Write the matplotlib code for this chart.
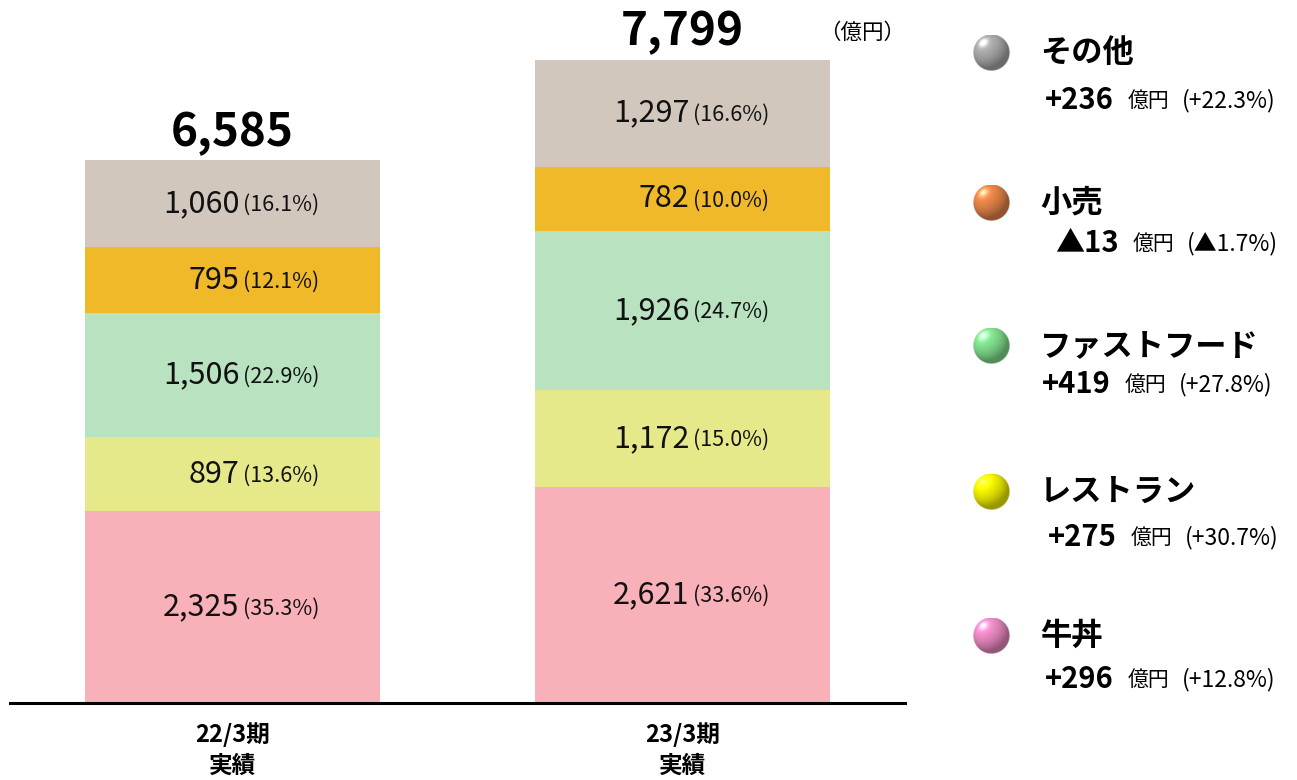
import numpy as np
import matplotlib
matplotlib.use("Agg")
import matplotlib.pyplot as plt

plt.rcParams['font.family'] = ['Noto Sans CJK JP', 'DejaVu Sans']

# ---- data ----
periods = ['22/3期\n実績', '23/3期\n実績']
categories = ['牛丼', 'レストラン', 'ファストフード', '小売', 'その他']  # bottom -> top
fy22_values = [2325, 897, 1506, 795, 1060]
fy23_values = [2621, 1172, 1926, 782, 1297]
fy22_pct = ['35.3%', '13.6%', '22.9%', '12.1%', '16.1%']
fy23_pct = ['33.6%', '15.0%', '24.7%', '10.0%', '16.6%']
totals = [6585, 7799]
change_values = ['+296', '+275', '+419', '▲13', '+236']
change_pct = ['+12.8%', '+30.7%', '+27.8%', '▲1.7%', '+22.3%']
unit_label = '（億円）'

seg_colors = ['#F8B1B8', '#E6E98A', '#B8E2C0', '#F0B92A', '#D1C7BC']
sphere_colors = ['#EE8CC6', '#F4F400', '#84E290', '#E8874A', '#ABABAB']

W, H = 1297, 780
fig = plt.figure(figsize=(W / 100, H / 100), dpi=100)
ax = fig.add_axes([10 / W, (H - 703) / H, 895 / W, 703 / H])

x = np.arange(len(periods))
bar_w = 295 / 450
series = [fy22_values, fy23_values]
pcts = [fy22_pct, fy23_pct]

for i in range(len(periods)):
    bottom = 0
    for j, v in enumerate(series[i]):
        ax.bar(x[i], v, bottom=bottom, width=bar_w, color=seg_colors[j], linewidth=0)
        mid = bottom + v / 2
        ax.annotate(f'{v:,}', (x[i], mid), xytext=(5, 0), textcoords='offset points',
                    ha='right', va='center', fontsize=22, color='#111111')
        ax.annotate(f'({pcts[i][j]})', (x[i], mid), xytext=(7.5, -1), textcoords='offset points',
                    ha='left', va='center', fontsize=15.5, color='#111111')
        bottom += v
    ax.annotate(f'{totals[i]:,}', (x[i], bottom), xytext=(0, 3), textcoords='offset points',
                ha='center', va='bottom', fontsize=33, fontweight='bold', color='#000000')

ax.set_xlim(-0.4944, 1.4944)
ax.set_ylim(0, 703 / 0.0825)
for s in ['top', 'right', 'left']:
    ax.spines[s].set_visible(False)
ax.spines['bottom'].set_linewidth(2.2)
ax.set_yticks([])
ax.set_xticks(x)
ax.set_xticklabels(periods, fontsize=17, fontweight='bold', linespacing=1.35)
ax.tick_params(axis='x', length=0, pad=14)

fig.text(862 / W, 1 - 33 / H, unit_label, ha='center', va='center', fontsize=15.5)


def sphere(color, n=90):
    c = np.array(matplotlib.colors.to_rgb(color))
    yy, xx = np.mgrid[-1:1:n * 1j, -1:1:n * 1j]
    r2 = xx ** 2 + yy ** 2
    inside = r2 <= 1
    z = np.sqrt(np.clip(1 - r2, 0, 1))
    L = np.array([-0.45, -0.55, 0.70])
    L = L / np.linalg.norm(L)
    d = np.clip(xx * L[0] + yy * L[1] + z * L[2], 0, 1)
    spec = d ** 30
    rgb = c[None, None, :] * (0.62 + 0.45 * d[..., None]) + 0.45 * spec[..., None]
    rgb = np.clip(rgb, 0, 1)
    alpha = np.clip((1 - np.sqrt(r2)) * n / 2, 0, 1)
    img = np.dstack([rgb, alpha])
    img[~inside, 3] = 0
    return img


name_y = [636, 492, 346, 203, 53]
sub_y = [679, 537, 384, 243, 100]
sub_x = [1045, 1048, 1042, 1055, 1045]
fig.canvas.draw()
r = fig.canvas.get_renderer()
for j in range(len(categories)):
    sax = fig.add_axes([(991 - 18.5) / W, 1 - (name_y[j] + 18.5) / H, 37 / W, 37 / H])
    sax.imshow(sphere(sphere_colors[j]), interpolation='bilinear')
    sax.axis('off')
    fig.text(1040 / W, 1 - name_y[j] / H, categories[j], ha='left', va='center',
             fontsize=22.5, fontweight='bold')
    t = fig.text(sub_x[j] / W, 1 - sub_y[j] / H, change_values[j], ha='left', va='center',
                 fontsize=21, fontweight='bold')
    bb = t.get_window_extent(renderer=r)
    x2 = bb.x1 + 14
    fig.text(x2 / W, 1 - (sub_y[j] + 1) / H, '億円', ha='left', va='center', fontsize=15)
    fig.text((x2 + 54) / W, 1 - (sub_y[j] + 1) / H, f'({change_pct[j]})', ha='left',
             va='center', fontsize=16.5)

fig.savefig('out.png', dpi=100)
